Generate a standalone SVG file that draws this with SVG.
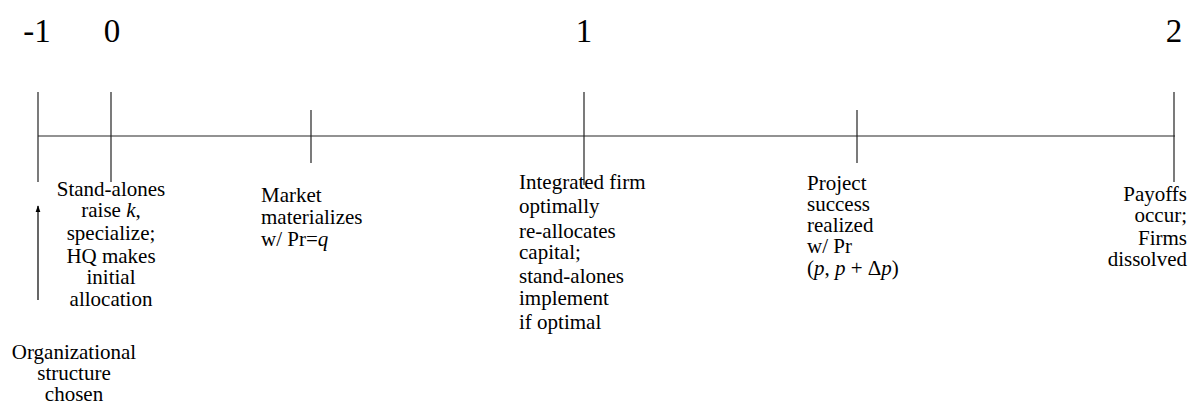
<svg xmlns="http://www.w3.org/2000/svg" width="1198" height="410" viewBox="0 0 1198 410" font-family="'Liberation Serif', 'Times New Roman', 'DejaVu Serif', serif">
<style>
text{font-family:'Liberation Serif','Times New Roman','DejaVu Serif',serif;fill:#000}
.num{font-size:33px;text-anchor:middle}
.lbl{font-size:21px}
.c{text-anchor:middle}
.r{text-anchor:end}
.tick{stroke:#222;stroke-width:1.2}
.axis{stroke:#6e6e6e;stroke-width:1.6}
</style>
<defs>
<marker id="ah" viewBox="0 0 10 10" refX="9" refY="5" markerWidth="6" markerHeight="6" orient="auto">
<path d="M0,1.5 L10,5 L0,8.5 z" fill="#000"/>
</marker>
</defs>
<g id="connectors">
<line class="axis" x1="38" y1="136" x2="1175" y2="136"/>
<line x1="38" y1="300" x2="38" y2="206" stroke="#000" stroke-width="1.2" marker-end="url(#ah)"/>
</g>
<g id="t-minus1">
<text class="num" x="37" y="42">-1</text>
<line class="tick" x1="38" y1="92" x2="38" y2="182" stroke="#555"/>
</g>
<g id="t0">
<text class="num" x="112" y="42">0</text>
<line class="tick" x1="111" y1="92" x2="111" y2="182"/>
<text class="lbl c" x="111" y="196">Stand-alones</text>
<text class="lbl c" x="111" y="217">raise <tspan font-style="italic">k</tspan>,</text>
<text class="lbl c" x="111" y="240">specialize;</text>
<text class="lbl c" x="111" y="263">HQ makes</text>
<text class="lbl c" x="111" y="284">initial</text>
<text class="lbl c" x="111" y="306">allocation</text>
</g>
<g id="org">
<text class="lbl c" x="74" y="359">Organizational</text>
<text class="lbl c" x="74" y="380">structure</text>
<text class="lbl c" x="74" y="401">chosen</text>
</g>
<g id="market">
<line class="tick" x1="311" y1="110" x2="311" y2="163"/>
<text class="lbl" x="261" y="202">Market</text>
<text class="lbl" x="261" y="224">materializes</text>
<text class="lbl" x="261" y="246">w/ Pr=<tspan font-style="italic">q</tspan></text>
</g>
<g id="t1">
<text class="num" x="584" y="42">1</text>
<line class="tick" x1="584" y1="92" x2="584" y2="185"/>
<text class="lbl" x="519" y="189">Integrated firm</text>
<text class="lbl" x="519" y="213">optimally</text>
<text class="lbl" x="519" y="238">re-allocates</text>
<text class="lbl" x="519" y="259">capital;</text>
<text class="lbl" x="519" y="283">stand-alones</text>
<text class="lbl" x="519" y="305">implement</text>
<text class="lbl" x="519" y="329">if optimal</text>
</g>
<g id="project">
<line class="tick" x1="857" y1="110" x2="857" y2="163"/>
<text class="lbl" x="807" y="190">Project</text>
<text class="lbl" x="807" y="211">success</text>
<text class="lbl" x="807" y="232">realized</text>
<text class="lbl" x="807" y="253">w/ Pr</text>
<text class="lbl" x="807" y="275">(<tspan font-style="italic">p</tspan>, <tspan font-style="italic">p</tspan> + Δ<tspan font-style="italic">p</tspan>)</text>
</g>
<g id="t2">
<text class="num" x="1174" y="42">2</text>
<line class="tick" x1="1174" y1="92" x2="1174" y2="182" stroke="#555"/>
<text class="lbl r" x="1187" y="201">Payoffs</text>
<text class="lbl r" x="1187" y="222">occur;</text>
<text class="lbl r" x="1187" y="245">Firms</text>
<text class="lbl r" x="1187" y="266">dissolved</text>
</g>
</svg>
